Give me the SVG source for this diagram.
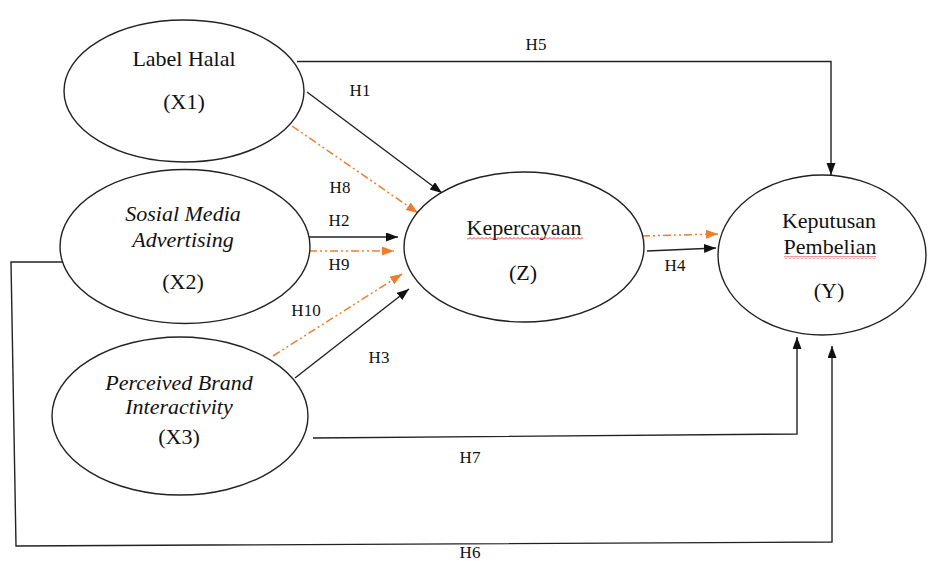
<svg xmlns="http://www.w3.org/2000/svg" width="929" height="561" viewBox="0 0 929 561">
<style>
  .node { fill: #ffffff; stroke: #222222; stroke-width: 1.4; }
  .t { font-family: "Liberation Serif", "Times New Roman", serif; font-size: 22px; fill: #111111; text-anchor: middle; }
  .i { font-style: italic; }
  .lbl { font-family: "Liberation Serif", "Times New Roman", serif; font-size: 17px; fill: #111111; text-anchor: middle; }
  .blk { fill: none; stroke: #222222; stroke-width: 1.4; marker-end: url(#ab); }
  .org { fill: none; stroke: #ED7D31; stroke-width: 1.5; stroke-dasharray: 8 3 2 3 2 3; marker-end: url(#ao); }
  .plain { fill: none; stroke: #222222; stroke-width: 1.4; }
</style>
<defs>
  <marker id="ab" markerUnits="userSpaceOnUse" markerWidth="13" markerHeight="10" refX="12" refY="4.5" orient="auto">
    <path d="M0,0 L12,4.5 L0,9 z" fill="#111111"/>
  </marker>
  <marker id="ao" markerUnits="userSpaceOnUse" markerWidth="13" markerHeight="10" refX="12" refY="4.5" orient="auto">
    <path d="M0,0 L12,4.5 L0,9 z" fill="#ED7D31"/>
  </marker>
  <pattern id="wave" patternUnits="userSpaceOnUse" width="4" height="3">
    <path d="M0,2.5 L2,0.5 L4,2.5" fill="none" stroke="#E02020" stroke-width="0.9"/>
  </pattern>
</defs>
<rect width="929" height="561" fill="#ffffff"/>

<g id="connectors">
  <polyline id="h5" class="blk" points="297,61.5 831,61.5 831,175"/>
  <line id="h1" class="blk" x1="307" y1="92" x2="442" y2="193"/>
  <line id="h8" class="org" x1="292" y1="126" x2="418" y2="213"/>
  <line id="h2" class="blk" x1="309" y1="237" x2="398" y2="237"/>
  <line id="h9" class="org" x1="309" y1="251" x2="394" y2="251"/>
  <line id="h10" class="org" x1="273" y1="356" x2="402" y2="274"/>
  <line id="h3" class="blk" x1="295" y1="378" x2="409" y2="289"/>
  <line id="h4o" class="org" x1="642" y1="236" x2="718" y2="234"/>
  <line id="h4" class="blk" x1="647" y1="251" x2="716" y2="248"/>
  <polyline id="h7" class="blk" points="313,438 797,434 797,337"/>
  <polyline id="h6" class="blk" points="66,262 11,262 16,546 832,542 832,346"/>
  <text class="lbl" x="536" y="50">H5</text>
  <text class="lbl" x="360" y="96">H1</text>
  <text class="lbl" x="340" y="193">H8</text>
  <text class="lbl" x="339" y="226">H2</text>
  <text class="lbl" x="339" y="270">H9</text>
  <text class="lbl" x="306" y="316">H10</text>
  <text class="lbl" x="379" y="363">H3</text>
  <text class="lbl" x="675" y="271">H4</text>
  <text class="lbl" x="470" y="463">H7</text>
  <text class="lbl" x="470" y="558">H6</text>
</g>

<g id="x1">
  <ellipse class="node" cx="184" cy="91" rx="120" ry="71"/>
  <text class="t" x="184" y="66">Label Halal</text>
  <text class="t" x="184" y="109">(X1)</text>
</g>

<g id="x2">
  <ellipse class="node" cx="185" cy="246.5" rx="125" ry="77"/>
  <text class="t i" x="183" y="221">Sosial Media</text>
  <text class="t i" x="183" y="247">Advertising</text>
  <text class="t" x="183" y="289">(X2)</text>
</g>

<g id="x3">
  <ellipse class="node" cx="180" cy="416" rx="128" ry="79"/>
  <text class="t i" x="179" y="390">Perceived Brand</text>
  <text class="t i" x="179" y="414">Interactivity</text>
  <text class="t" x="179" y="444">(X3)</text>
</g>

<g id="z">
  <ellipse class="node" cx="524" cy="247" rx="120" ry="75"/>
  <text class="t" x="524" y="235">Kepercayaan</text>
  <rect x="467" y="237" width="116" height="3" fill="url(#wave)"/>
  <text class="t" x="523" y="280">(Z)</text>
</g>

<g id="y">
  <ellipse class="node" cx="822" cy="255" rx="104" ry="80"/>
  <text class="t" x="829" y="228">Keputusan</text>
  <text class="t" x="830" y="254">Pembelian</text>
  <rect x="784" y="256" width="92" height="3" fill="url(#wave)"/>
  <text class="t" x="829" y="298">(Y)</text>
</g>
</svg>
